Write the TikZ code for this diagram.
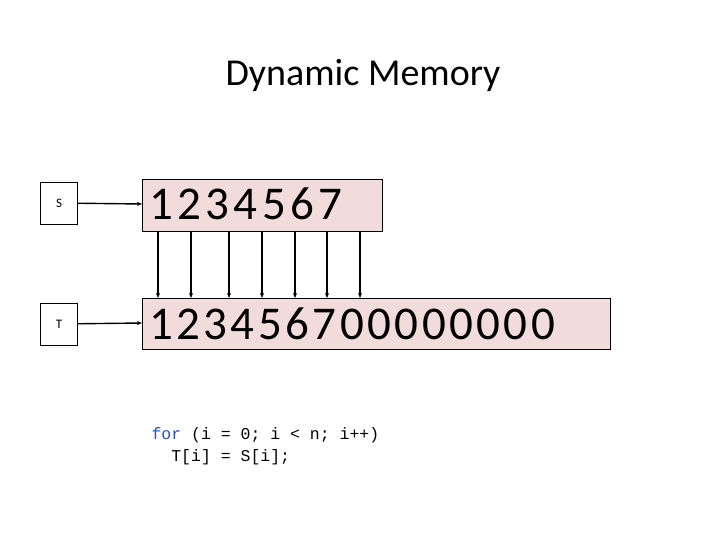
\documentclass[tikz,border=0pt]{standalone}
\usepackage{fontspec}
\setmainfont{Carlito}
\newfontfamily\codefont{Liberation Mono}
\usetikzlibrary{arrows.meta}
\definecolor{cellpink}{RGB}{242,220,219}
\definecolor{kwblue}{RGB}{40,80,200}
\begin{document}
\begin{tikzpicture}[x=1pt,y=-1pt,
  namebox/.style={draw,line width=0.9pt,minimum width=37pt,minimum height=42pt,font=\fontsize{13}{15}\selectfont},
  arr/.style={line width=1.4pt,-{Stealth[length=5pt,width=4pt]}},
  digit/.style={font=\fontsize{47}{47}\selectfont,anchor=base}]
\useasboundingbox (0,0) rectangle (720,540);
\node[font=\fontsize{38}{42}\selectfont] (title) at (363,75) {Dynamic Memory};
% the two arrays
\draw[fill=cellpink,line width=0.9pt] (142,179) rectangle (382,231);
\draw[fill=cellpink,line width=0.9pt] (142,298) rectangle (610,349);
\coordinate (Sin) at (142,204);
\coordinate (Tin) at (142,323);
\node[namebox] (S) at (59,203) {S};
\node[namebox] (T) at (59,324) {T};
\draw[arr] (S) -- (Sin);
\draw[arr] (T) -- (Tin);
\foreach \d [count=\k from 0] in {1,...,7}
  \node[digit] (s\k) at (161+28.3*\k,220) {\d};
\foreach \d [count=\k from 0] in {1,2,3,4,5,6,7,0,0,0,0,0,0,0,0}
  \node[digit] (t\k) at (161+27.3*\k,339) {\d};
% copy arrows
\foreach \x [count=\k] in {158,191,229,262,295,327,360} {
  \coordinate (a\k) at (\x,231);
  \coordinate (b\k) at (\x,298);
  \draw[arr] (a\k) -- (b\k);
}
\node[anchor=north west,align=left,font=\codefont\fontsize{16.5}{22}\selectfont] (code) at (148,424)
  {\textcolor{kwblue}{for} (i = 0; i < n; i++)\\\ \ T[i] = S[i];};
\end{tikzpicture}
\end{document}
